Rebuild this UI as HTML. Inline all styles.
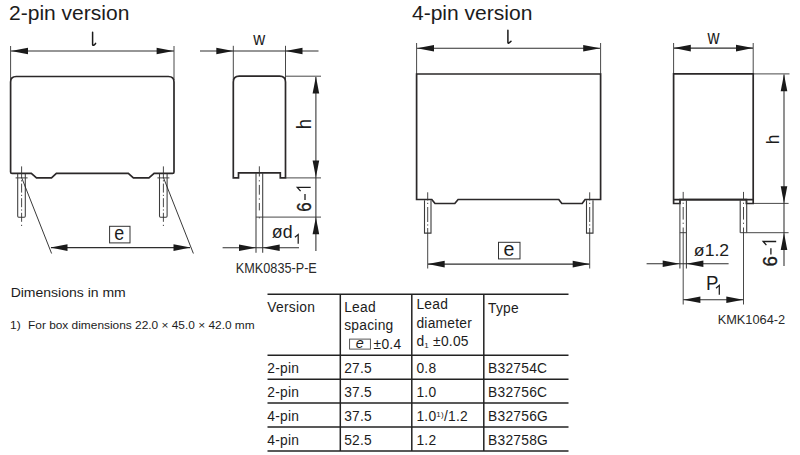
<!DOCTYPE html>
<html><head><meta charset="utf-8"><style>
html,body{margin:0;padding:0;background:#fff;width:800px;height:455px;overflow:hidden}
svg{display:block;font-family:"Liberation Sans",sans-serif;fill:#1c1c1c}
</style></head><body>
<svg width="800" height="455" viewBox="0 0 800 455">
<g fill="#1c1c1c">
<text x="9.05" y="19.95" font-size="19.96" textLength="120.32" lengthAdjust="spacingAndGlyphs" >2-pin version</text>
<line x1="10.6" y1="46" x2="10.6" y2="80" stroke="#333" stroke-width="0.9" fill="none" />
<line x1="174" y1="46" x2="174" y2="80" stroke="#333" stroke-width="0.9" fill="none" />
<line x1="11" y1="51" x2="174" y2="51" stroke="#2e2e2e" stroke-width="1.05" />
<polygon points="11.00,51.00 28.00,47.70 28.00,54.30" fill="#1a1a1a"/>
<polygon points="173.60,51.00 156.60,47.70 156.60,54.30" fill="#1a1a1a"/>
<path d="M92.6,32.3 L92.6,44.6 Q92.9,46.6 95.6,43.4" stroke="#1a1a1a" stroke-width="1.5" fill="none" stroke-linecap="round"/>
<path d="M10.6,172 L10.6,82 Q10.6,76.5 16.2,76.5 L168.4,76.5 Q174,76.5 174,82 L174,172 Q174,173.4 172.6,173.4 L154.1,173.4 L148.9,177.9 L133.4,177.9 L128.3,173.4 L56.4,173.4 L51.5,177.9 L36.5,177.9 L31.3,173.4 L12,173.4 Q10.6,173.4 10.6,172 Z" stroke="#2b2829" stroke-width="1.7" fill="none"/>
<path d="M17.700000000000003,174 L17.700000000000003,216 Q17.700000000000003,217.2 18.700000000000003,217.2 L24.3,217.2 Q25.3,217.2 25.3,216 L25.3,174" stroke="#3c3c3c" stroke-width="1.05" fill="none"/>
<line x1="15.600000000000001" y1="177.9" x2="27.6" y2="177.9" stroke="#444" stroke-width="1" />
<line x1="21.6" y1="166.4" x2="21.6" y2="226" stroke="#333" stroke-width="0.9" stroke-dasharray="11.6,2.2,1.2,2.2,9,2.2,1.2,2.2,9,2.2,1.2,2.2,9,3,1.2,9"/>
<line x1="21.6" y1="177.5" x2="51.6" y2="253.5" stroke="#222" stroke-width="0.9" />
<path d="M159.5,174 L159.5,216 Q159.5,217.2 160.5,217.2 L166.1,217.2 Q167.1,217.2 167.1,216 L167.1,174" stroke="#3c3c3c" stroke-width="1.05" fill="none"/>
<line x1="157.4" y1="177.9" x2="169.4" y2="177.9" stroke="#444" stroke-width="1" />
<line x1="163.4" y1="166.4" x2="163.4" y2="226" stroke="#333" stroke-width="0.9" stroke-dasharray="11.6,2.2,1.2,2.2,9,2.2,1.2,2.2,9,2.2,1.2,2.2,9,3,1.2,9"/>
<line x1="163.4" y1="177.5" x2="193.4" y2="253.5" stroke="#222" stroke-width="0.9" />
<line x1="51" y1="247.6" x2="190" y2="247.6" stroke="#2e2e2e" stroke-width="1.05" />
<polygon points="50.50,247.60 67.50,244.30 67.50,250.90" fill="#1a1a1a"/>
<polygon points="190.50,247.60 173.50,244.30 173.50,250.90" fill="#1a1a1a"/>
<rect x="109.6" y="226.3" width="20.4" height="16.6" fill="none" stroke="#333" stroke-width="1"/>
<text x="114.25" y="239.60" font-size="19.89" textLength="9.94" lengthAdjust="spacingAndGlyphs" >e</text>
<line x1="233.3" y1="45.8" x2="233.3" y2="80" stroke="#333" stroke-width="0.9" fill="none" />
<line x1="285.5" y1="45.8" x2="285.5" y2="80" stroke="#333" stroke-width="0.9" fill="none" />
<line x1="200" y1="51" x2="318.5" y2="51" stroke="#2e2e2e" stroke-width="1.05" />
<polygon points="233.30,51.00 216.30,47.70 216.30,54.30" fill="#1a1a1a"/>
<polygon points="285.50,51.00 302.50,47.70 302.50,54.30" fill="#1a1a1a"/>
<text x="253.23" y="45.30" font-size="18.37" textLength="11.94" lengthAdjust="spacingAndGlyphs" >w</text>
<path d="M233.3,177.9 L233.3,82.1 Q233.3,76.2 239.2,76.2 L279.6,76.2 Q285.5,76.2 285.5,82.1 L285.5,177.9 L280.3,177.9 L280.3,172.9 L238.5,172.9 L238.5,177.9 Z" stroke="#2b2829" stroke-width="1.7" fill="none"/>
<line x1="286" y1="76.2" x2="321" y2="76.2" stroke="#333" stroke-width="0.9" fill="none" />
<line x1="286" y1="177.9" x2="321" y2="177.9" stroke="#333" stroke-width="0.9" fill="none" />
<line x1="256" y1="217.1" x2="321" y2="217.1" stroke="#333" stroke-width="0.9" fill="none" />
<line x1="315.9" y1="77" x2="315.9" y2="251" stroke="#2e2e2e" stroke-width="1.05" />
<polygon points="315.90,76.40 312.60,93.40 319.20,93.40" fill="#1a1a1a"/>
<polygon points="315.90,177.60 312.60,160.60 319.20,160.60" fill="#1a1a1a"/>
<polygon points="315.90,217.30 312.60,234.30 319.20,234.30" fill="#1a1a1a"/>
<line x1="256" y1="173" x2="256" y2="252.7" stroke="#3c3c3c" stroke-width="1.05" />
<line x1="262.7" y1="173" x2="262.7" y2="252.7" stroke="#3c3c3c" stroke-width="1.05" />
<line x1="259.35" y1="166.3" x2="259.35" y2="224" stroke="#333" stroke-width="0.9" stroke-dasharray="10.2,3.7,1.2,3.5,9.8,3.7,1.2,3.4,7.4,6.8,1.2,100"/>
<line x1="222.6" y1="247.8" x2="299" y2="247.8" stroke="#2e2e2e" stroke-width="1.05" />
<polygon points="256.00,247.80 239.00,244.50 239.00,251.10" fill="#1a1a1a"/>
<polygon points="262.70,247.80 279.70,244.50 279.70,251.10" fill="#1a1a1a"/>
<text x="271.87" y="238.40" font-size="17.68" textLength="20.68" lengthAdjust="spacingAndGlyphs" >ød</text>
<path d="M294.9,237.3 L298.2,234.6 L298.2,243.7" stroke="#1c1c1c" stroke-width="1.25" fill="none"/>
<text transform="rotate(-90)" x="-129.29" y="311.10" font-size="19.48" textLength="10.28" lengthAdjust="spacingAndGlyphs" >h</text>
<text transform="rotate(-90)" x="-211.74" y="310.90" font-size="20.06" textLength="9.39" lengthAdjust="spacingAndGlyphs" stroke="#1c1c1c" stroke-width="0.35">6</text>
<line x1="305.0" y1="193.9" x2="305.0" y2="200.1" stroke="#1c1c1c" stroke-width="1.3" />
<path d="M300.6,191.1 L297.3,187.4 L310.7,187.4" stroke="#1c1c1c" stroke-width="1.3" fill="none"/>
<text x="235.86" y="273.10" font-size="14.33" textLength="80.94" lengthAdjust="spacingAndGlyphs" fill="#2a2a2a">KMK0835-P-E</text>
<text x="411.94" y="19.90" font-size="19.75" textLength="120.43" lengthAdjust="spacingAndGlyphs" >4-pin version</text>
<line x1="416.6" y1="43" x2="416.6" y2="74" stroke="#333" stroke-width="0.9" fill="none" />
<line x1="600.6" y1="43" x2="600.6" y2="74" stroke="#333" stroke-width="0.9" fill="none" />
<line x1="417" y1="48.2" x2="600" y2="48.2" stroke="#2e2e2e" stroke-width="1.05" />
<polygon points="417.00,48.20 434.00,44.90 434.00,51.50" fill="#1a1a1a"/>
<polygon points="600.20,48.20 583.20,44.90 583.20,51.50" fill="#1a1a1a"/>
<path d="M507.9,30.3 L507.9,42.4 Q508.2,44.3 511,41.3" stroke="#1a1a1a" stroke-width="1.5" fill="none" stroke-linecap="round"/>
<path d="M416.6,199.5 L416.6,74 L600.6,74 L600.6,199.5 L585.1,199.5 L582.2,203.5 L561.8,203.5 L558.8,199.5 L458.1,199.5 L454.8,203.5 L435,203.5 L431.8,199.5 Z" stroke="#2b2829" stroke-width="1.7" fill="none"/>
<path d="M424.5,200.3 L424.5,233.1 L431.0,233.1 L431.0,200.3" stroke="#3a3a3a" stroke-width="1.1" fill="none"/>
<line x1="427.7" y1="192.3" x2="427.7" y2="268.5" stroke="#333" stroke-width="0.9" stroke-dasharray="8.2,2.3,1.2,3,15,2.4,1.2,2.4,100"/>
<path d="M586.5,200.3 L586.5,233.1 L593.0,233.1 L593.0,200.3" stroke="#3a3a3a" stroke-width="1.1" fill="none"/>
<line x1="589.7" y1="192.3" x2="589.7" y2="268.5" stroke="#333" stroke-width="0.9" stroke-dasharray="8.2,2.3,1.2,3,15,2.4,1.2,2.4,100"/>
<line x1="428" y1="264.1" x2="589.5" y2="264.1" stroke="#2e2e2e" stroke-width="1.05" />
<polygon points="427.70,264.10 444.70,260.80 444.70,267.40" fill="#1a1a1a"/>
<polygon points="589.70,264.10 572.70,260.80 572.70,267.40" fill="#1a1a1a"/>
<rect x="498.5" y="242.3" width="21.5" height="16.6" fill="none" stroke="#333" stroke-width="1"/>
<text x="503.38" y="255.90" font-size="20.26" textLength="10.89" lengthAdjust="spacingAndGlyphs" >e</text>
<line x1="673.6" y1="43" x2="673.6" y2="74" stroke="#333" stroke-width="0.9" fill="none" />
<line x1="753.2" y1="43" x2="753.2" y2="74" stroke="#333" stroke-width="0.9" fill="none" />
<line x1="674" y1="48.1" x2="753" y2="48.1" stroke="#2e2e2e" stroke-width="1.05" />
<polygon points="673.80,48.10 690.80,44.80 690.80,51.40" fill="#1a1a1a"/>
<polygon points="753.00,48.10 736.00,44.80 736.00,51.40" fill="#1a1a1a"/>
<text x="707.43" y="44.40" font-size="19.32" textLength="12.04" lengthAdjust="spacingAndGlyphs" >w</text>
<path d="M673.6,203.5 L673.6,73.9 L753.2,73.9 L753.2,203.5 L746.4,203.5 L746.4,199.6 L680,199.6 L680,203.5 Z" stroke="#2b2829" stroke-width="1.7" fill="none"/>
<line x1="673.6" y1="199.6" x2="753.2" y2="199.6" stroke="#2b2829" stroke-width="1.7" fill="none" />
<line x1="753.5" y1="73.9" x2="789.5" y2="73.9" stroke="#333" stroke-width="0.9" fill="none" />
<line x1="753.5" y1="203.4" x2="788.6" y2="203.4" stroke="#333" stroke-width="0.9" fill="none" />
<line x1="746.4" y1="232.7" x2="788.6" y2="232.7" stroke="#333" stroke-width="0.9" fill="none" />
<line x1="784" y1="74.5" x2="784" y2="266" stroke="#2e2e2e" stroke-width="1.05" />
<polygon points="784.00,74.20 780.70,91.20 787.30,91.20" fill="#1a1a1a"/>
<polygon points="784.00,203.20 780.70,186.20 787.30,186.20" fill="#1a1a1a"/>
<polygon points="784.00,232.90 780.70,249.90 787.30,249.90" fill="#1a1a1a"/>
<text transform="rotate(-90)" x="-144.19" y="779.10" font-size="19.20" textLength="9.49" lengthAdjust="spacingAndGlyphs" >h</text>
<text transform="rotate(-90)" x="-266.43" y="776.70" font-size="19.77" textLength="10.35" lengthAdjust="spacingAndGlyphs" stroke="#1c1c1c" stroke-width="0.35">6</text>
<line x1="770.9" y1="248.2" x2="770.9" y2="254.4" stroke="#1c1c1c" stroke-width="1.3" />
<path d="M766.4,245.1 L763.2,241.5 L776.2,241.5" stroke="#1c1c1c" stroke-width="1.3" fill="none"/>
<line x1="679.9000000000001" y1="200.2" x2="679.9000000000001" y2="268.4" stroke="#3c3c3c" stroke-width="1.05" />
<line x1="686.4000000000001" y1="200.2" x2="686.4000000000001" y2="268.4" stroke="#3c3c3c" stroke-width="1.05" />
<line x1="679.9000000000001" y1="232.7" x2="686.4000000000001" y2="232.7" stroke="#444" stroke-width="1" />
<line x1="683.2" y1="191.9" x2="683.2" y2="304.5" stroke="#333" stroke-width="0.9" stroke-dasharray="8.2,2.6,1.2,3.1,12.6,3.1,1.2,3.6,200"/>
<line x1="740.2" y1="200.2" x2="740.2" y2="232.7" stroke="#3a3a3a" stroke-width="1.1" />
<line x1="746.7" y1="200.2" x2="746.7" y2="232.7" stroke="#3a3a3a" stroke-width="1.1" />
<line x1="740.2" y1="232.7" x2="746.7" y2="232.7" stroke="#444" stroke-width="1" />
<line x1="743.5" y1="191.9" x2="743.5" y2="304.5" stroke="#333" stroke-width="0.9" stroke-dasharray="8.2,2.6,1.2,3.1,12.6,3.1,1.2,3.6,200"/>
<line x1="646.6" y1="263.8" x2="728.6" y2="263.8" stroke="#2e2e2e" stroke-width="1.05" />
<polygon points="679.70,263.80 662.70,260.50 662.70,267.10" fill="#1a1a1a"/>
<polygon points="686.40,263.80 703.40,260.50 703.40,267.10" fill="#1a1a1a"/>
<text x="693.88" y="256.00" font-size="15.76" textLength="35.22" lengthAdjust="spacingAndGlyphs" >ø1.2</text>
<line x1="683.2" y1="299.8" x2="743.5" y2="299.8" stroke="#2e2e2e" stroke-width="1.05" />
<polygon points="683.40,299.80 700.40,296.50 700.40,303.10" fill="#1a1a1a"/>
<polygon points="743.30,299.80 726.30,296.50 726.30,303.10" fill="#1a1a1a"/>
<text x="706.07" y="289.60" font-size="19.91" textLength="12.41" lengthAdjust="spacingAndGlyphs" >P</text>
<path d="M716,288.2 L719.3,285.3 L719.3,294.7" stroke="#1c1c1c" stroke-width="1.25" fill="none"/>
<text x="717.65" y="323.70" font-size="12.75" textLength="67.60" lengthAdjust="spacingAndGlyphs" fill="#2a2a2a">KMK1064-2</text>
<text x="10.65" y="296.70" font-size="12.98" textLength="115.15" lengthAdjust="spacingAndGlyphs" >Dimensions in mm</text>
<text x="10.09" y="329.20" font-size="11.33" textLength="10.67" lengthAdjust="spacingAndGlyphs" >1)</text>
<text x="28.03" y="329.00" font-size="10.77" textLength="226.64" lengthAdjust="spacingAndGlyphs" >For box dimensions 22.0 × 45.0 × 42.0 mm</text>
<line x1="267.5" y1="294.2" x2="568.5" y2="294.2" stroke="#222" stroke-width="1.6"/>
<line x1="267.5" y1="355.2" x2="568.5" y2="355.2" stroke="#222" stroke-width="1.6"/>
<line x1="267.5" y1="379.3" x2="568.5" y2="379.3" stroke="#222" stroke-width="1.6"/>
<line x1="267.5" y1="403.0" x2="568.5" y2="403.0" stroke="#222" stroke-width="1.6"/>
<line x1="267.5" y1="427.0" x2="568.5" y2="427.0" stroke="#222" stroke-width="1.6"/>
<line x1="267.5" y1="451.0" x2="568.5" y2="451.0" stroke="#222" stroke-width="1.6"/>
<line x1="340.3" y1="294.2" x2="340.3" y2="451.0" stroke="#222" stroke-width="1.5"/>
<line x1="411.8" y1="294.2" x2="411.8" y2="451.0" stroke="#222" stroke-width="1.5"/>
<line x1="483.8" y1="294.2" x2="483.8" y2="451.0" stroke="#222" stroke-width="1.5"/>
<text x="267.3" y="311.8" font-size="13.8" letter-spacing="0.25">Version</text>
<text x="344.2" y="311.6" font-size="13.8" letter-spacing="0.25">Lead</text>
<text x="344.2" y="330" font-size="13.8" letter-spacing="0.25">spacing</text>
<rect x="349.6" y="339.1" width="20.8" height="10.0" fill="none" stroke="#444" stroke-width="0.9"/>
<text x="355.71" y="347.70" font-size="13.75" textLength="8.01" lengthAdjust="spacingAndGlyphs" font-style="italic">e</text>
<text x="373.6" y="348.8" font-size="13.8" letter-spacing="0.25">±0.4</text>
<text x="416.4" y="309" font-size="13.8" letter-spacing="0.25">Lead</text>
<text x="416.4" y="327.8" font-size="13.8" letter-spacing="0.25">diameter</text>
<text x="416.4" y="345.8" font-size="13.8" letter-spacing="0.25">d<tspan font-size="8" dy="2">1</tspan><tspan dy="-2"> ±0.05</tspan></text>
<text x="488.0" y="312.5" font-size="13.8" letter-spacing="0.25">Type</text>
<text x="267.3" y="373.0" font-size="13.8" letter-spacing="0.25">2-pin</text>
<text x="344.2" y="373.0" font-size="13.8" letter-spacing="0.25">27.5</text>
<text x="416.4" y="373.0" font-size="13.8" letter-spacing="0.25">0.8</text>
<text x="488.0" y="373.0" font-size="13.8" letter-spacing="0.25">B32754C</text>
<text x="267.3" y="396.9" font-size="13.8" letter-spacing="0.25">2-pin</text>
<text x="344.2" y="396.9" font-size="13.8" letter-spacing="0.25">37.5</text>
<text x="416.4" y="396.9" font-size="13.8" letter-spacing="0.25">1.0</text>
<text x="488.0" y="396.9" font-size="13.8" letter-spacing="0.25">B32756C</text>
<text x="267.3" y="420.8" font-size="13.8" letter-spacing="0.25">4-pin</text>
<text x="344.2" y="420.8" font-size="13.8" letter-spacing="0.25">37.5</text>
<text x="416.4" y="420.8" font-size="13.8" letter-spacing="0.25">1.0<tspan font-size="8" dy="-4">1)</tspan><tspan dy="4">/1.2</tspan></text>
<text x="488.0" y="420.8" font-size="13.8" letter-spacing="0.25">B32756G</text>
<text x="267.3" y="444.7" font-size="13.8" letter-spacing="0.25">4-pin</text>
<text x="344.2" y="444.7" font-size="13.8" letter-spacing="0.25">52.5</text>
<text x="416.4" y="444.7" font-size="13.8" letter-spacing="0.25">1.2</text>
<text x="488.0" y="444.7" font-size="13.8" letter-spacing="0.25">B32758G</text>
</g>
</svg>
</body></html>
